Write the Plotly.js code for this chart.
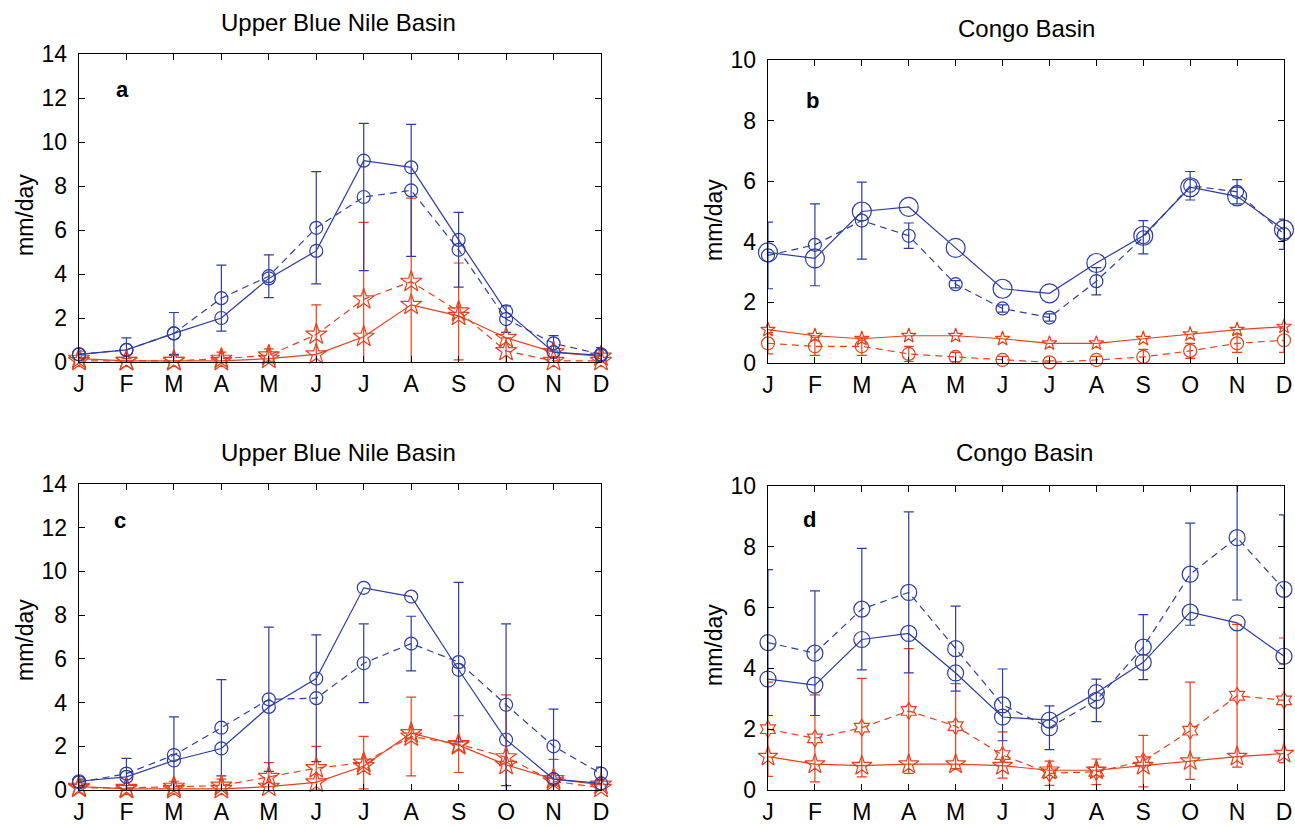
<!DOCTYPE html>
<html>
<head>
<meta charset="utf-8">
<script src="https://cdn.plot.ly/plotly-3.0.1.min.js"></script>
<style>html,body{margin:0;padding:0;background:#fff;}#chart{width:1295px;height:828px;}</style>
</head>
<body>
<div id="chart"></div>
<script>
// ---- data ----
var months = ['J','F','M','A','M','J','J','A','S','O','N','D'];
var monthIdx = [1,2,3,4,5,6,7,8,9,10,11,12];

// Panel a: Upper Blue Nile Basin
var aBlueSolid = [0.35,0.55,1.3,2.0,3.8,5.05,9.15,8.85,5.55,2.3,0.45,0.3];
var aBlueDash  = [0.35,0.55,1.3,2.9,3.9,6.1,7.5,7.8,5.1,1.95,0.85,0.35];
var aBlueErr   = [0.15,0.55,0.95,1.5,0.97,2.55,3.35,3.0,1.7,0.6,0.35,0.3];
var aRedSolid  = [0.15,0.05,0.05,0.05,0.15,0.35,1.15,2.6,2.1,1.1,0.45,0.25];
var aRedDash   = [0.05,0.05,0.05,0.15,0.3,1.25,2.85,3.65,2.3,0.5,0.05,0.05];
var aRedErr    = [0.1,0.1,0.25,0.3,0.3,1.35,3.5,3.8,2.2,0.6,0.2,0.1];

// Panel b: Congo Basin
var bBlueSolid = [3.65,3.45,5.0,5.15,3.8,2.45,2.3,3.3,4.2,5.8,5.5,4.4];
var bBlueDash  = [3.55,3.9,4.7,4.2,2.6,1.8,1.5,2.7,4.15,5.85,5.65,4.25];
var bBlueErr   = [1.1,1.35,1.27,0.42,0.12,0.12,0.12,0.45,0.55,0.47,0.4,0.5];
var bRedSolid  = [1.1,0.9,0.8,0.9,0.9,0.8,0.65,0.65,0.8,0.95,1.1,1.2];
var bRedDash   = [0.65,0.55,0.55,0.3,0.2,0.1,0.02,0.1,0.2,0.4,0.65,0.75];
var bRedErr    = [0.35,0.3,0.3,0.25,0.15,0.12,0.05,0.12,0.25,0.25,0.3,0.4];

// Panel c: Upper Blue Nile Basin
var cBlueSolid = [0.4,0.6,1.35,1.9,3.8,5.1,9.25,8.85,5.5,2.3,0.5,0.3];
var cBlueDash  = [0.35,0.75,1.6,2.85,4.15,4.2,5.8,6.7,5.85,3.9,2.0,0.75];
var cBlueErr   = [0.15,0.7,1.75,2.2,3.3,2.9,1.8,1.25,3.65,3.7,1.7,0.3];
var cRedSolid  = [0.15,0.05,0.05,0.05,0.15,0.35,1.1,2.6,2.05,1.15,0.5,0.25];
var cRedDash   = [0.1,0.1,0.15,0.2,0.6,1.0,1.25,2.45,2.1,1.5,0.4,0.1];
var cRedErr    = [0.1,0.1,0.25,0.3,0.65,1.0,1.2,1.8,1.3,2.85,1.0,0.15];

// Panel d: Congo Basin
var dBlueSolid = [3.65,3.45,4.95,5.15,3.85,2.4,2.3,3.2,4.2,5.85,5.5,4.4];
var dBlueDash  = [4.85,4.5,5.95,6.5,4.65,2.8,2.05,2.95,4.7,7.1,8.3,6.6];
var dBlueErr   = [2.4,2.05,2.0,2.65,1.4,1.18,0.72,0.7,1.07,1.68,2.05,2.45];
var dRedSolid  = [1.1,0.85,0.8,0.85,0.85,0.8,0.65,0.65,0.8,0.95,1.1,1.2];
var dRedDash   = [2.0,1.7,2.05,2.6,2.1,1.15,0.55,0.6,0.95,1.95,3.1,2.95];
var dRedErr    = [1.55,1.43,1.62,2.05,1.4,0.76,0.4,0.42,0.85,1.6,2.35,2.05];

var panelTitles = ['Upper Blue Nile Basin','Congo Basin','Upper Blue Nile Basin','Congo Basin'];
var panelLetters = ['a','b','c','d'];
var yLabel = 'mm/day';

// ---- style ----
var BLUE = '#2d3ca3';
var RED = '#e8401c';
var W = 1295, H = 828;
var narrow = '"Liberation Sans Narrow", "Arial Narrow", "Liberation Sans", Arial, sans-serif';

function line(xa, ya, y, color, dash, symbol, size) {
  return {x: monthIdx, y: y, xaxis: xa, yaxis: ya, type: 'scatter', mode: 'lines+markers',
    cliponaxis: false, showlegend: false, hoverinfo: 'skip',
    line: {color: color, width: 1.2, dash: dash ? '7px,5px' : 'solid'},
    marker: {symbol: symbol, size: size, color: color, line: {color: color, width: 1.2}}};
}
function err(xa, ya, y, e, color) {
  return {x: monthIdx, y: y, xaxis: xa, yaxis: ya, type: 'scatter', mode: 'markers',
    cliponaxis: true, showlegend: false, hoverinfo: 'skip',
    marker: {size: 1, color: 'rgba(0,0,0,0)'},
    error_y: {type: 'data', array: e, visible: true, color: color, thickness: 1.2, width: 5}};
}

var traces = [
  // a
  err('x','y', aRedDash, aRedErr, RED),
  err('x','y', aBlueDash, aBlueErr, BLUE),
  line('x','y', aRedSolid, RED, false, 'star-open', 16),
  line('x','y', aRedDash, RED, true, 'star-open', 16),
  line('x','y', aBlueSolid, BLUE, false, 'circle-open', 13),
  line('x','y', aBlueDash, BLUE, true, 'circle-open', 13),
  // b
  err('x2','y2', bRedDash, bRedErr, RED),
  err('x2','y2', bBlueDash, bBlueErr, BLUE),
  line('x2','y2', bRedSolid, RED, false, 'star-open', 11),
  line('x2','y2', bRedDash, RED, true, 'circle-open', 13),
  line('x2','y2', bBlueSolid, BLUE, false, 'circle-open', 19),
  line('x2','y2', bBlueDash, BLUE, true, 'circle-open', 13),
  // c
  err('x3','y3', cRedDash, cRedErr, RED),
  err('x3','y3', cBlueDash, cBlueErr, BLUE),
  line('x3','y3', cRedSolid, RED, false, 'star-open', 16),
  line('x3','y3', cRedDash, RED, true, 'star-open', 16),
  line('x3','y3', cBlueSolid, BLUE, false, 'circle-open', 13),
  line('x3','y3', cBlueDash, BLUE, true, 'circle-open', 13),
  // d
  err('x4','y4', dRedDash, dRedErr, RED),
  err('x4','y4', dBlueDash, dBlueErr, BLUE),
  line('x4','y4', dRedSolid, RED, false, 'star-open', 15),
  line('x4','y4', dRedDash, RED, true, 'hexagram-open', 13),
  line('x4','y4', dBlueSolid, BLUE, false, 'circle-open', 16),
  line('x4','y4', dBlueDash, BLUE, true, 'circle-open', 16)
];

function xaxis(x0, x1, anchor) {
  return {domain: [x0 / W, x1 / W], anchor: anchor, range: [1, 12], tickvals: monthIdx, ticktext: months,
    ticks: 'inside', ticklen: 6, tickcolor: '#000', tickwidth: 1, mirror: 'ticks',
    showline: true, linecolor: '#000', linewidth: 1.3, showgrid: false, zeroline: false,
    tickfont: {family: narrow, size: 23, color: '#000'}, ticklabelstandoff: 1,
    ticklabeloverflow: 'allow', fixedrange: true};
}
function yaxis(top, bottom, anchor, maxv) {
  var tv = [];
  for (var v = 0; v <= maxv; v += 2) tv.push(v);
  return {domain: [1 - bottom / H, 1 - top / H], anchor: anchor, range: [0, maxv], tickvals: tv,
    ticks: 'inside', ticklen: 6, tickcolor: '#000', tickwidth: 1, mirror: 'ticks',
    showline: true, linecolor: '#000', linewidth: 1.3, showgrid: false, zeroline: false,
    tickfont: {family: narrow, size: 23, color: '#000'}, ticklabelstandoff: 6,
    ticklabeloverflow: 'allow', fixedrange: true};
}

function ann(text, px, py, opts) {
  var a = {text: text, x: px / W, y: 1 - py / H, xref: 'paper', yref: 'paper',
    xanchor: 'center', yanchor: 'middle', showarrow: false,
    font: {family: narrow, size: 24, color: '#000'}};
  for (var k in opts) a[k] = opts[k];
  return a;
}
var letterFont = {family: '"Liberation Sans", Arial, sans-serif', size: 22, color: '#000', weight: 'bold'};
var yLabFont = {family: '"Liberation Sans", Arial, sans-serif', size: 23, color: '#000'};

var layout = {
  width: W, height: H, margin: {l: 0, r: 0, t: 0, b: 0},
  paper_bgcolor: '#fff', plot_bgcolor: '#fff', showlegend: false,
  xaxis: xaxis(79, 601, 'y'), yaxis: yaxis(54, 362, 'x', 14),
  xaxis2: xaxis(768, 1284, 'y2'), yaxis2: yaxis(60, 363, 'x2', 10),
  xaxis3: xaxis(79, 601, 'y3'), yaxis3: yaxis(484, 790, 'x3', 14),
  xaxis4: xaxis(768, 1284, 'y4'), yaxis4: yaxis(486, 790, 'x4', 10),
  annotations: [
    ann(panelTitles[0], 338, 22),
    ann(panelTitles[1], 1026, 28),
    ann(panelTitles[2], 338, 452),
    ann(panelTitles[3], 1024, 452),
    ann(panelLetters[0], 122, 89, {font: letterFont}),
    ann(panelLetters[1], 812, 101, {font: letterFont}),
    ann(panelLetters[2], 120, 520, {font: letterFont}),
    ann(panelLetters[3], 809, 519, {font: letterFont}),
    ann(yLabel, 25, 215, {textangle: -90, font: yLabFont}),
    ann(yLabel, 714, 220, {textangle: -90, font: yLabFont}),
    ann(yLabel, 25, 640, {textangle: -90, font: yLabFont}),
    ann(yLabel, 714, 645, {textangle: -90, font: yLabFont})
  ]
};

Plotly.newPlot('chart', traces, layout, {displayModeBar: false, staticPlot: true});
</script>
</body>
</html>
